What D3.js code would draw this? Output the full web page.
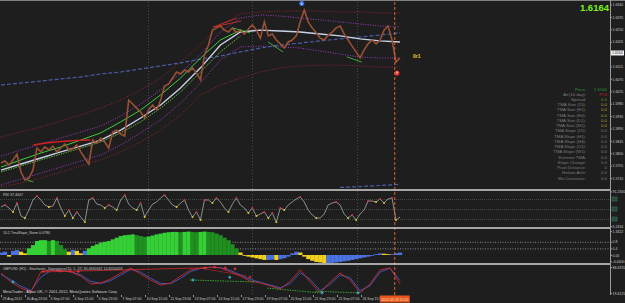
<!DOCTYPE html>
<html>
<head>
<meta charset="utf-8">
<script src="https://cdn.jsdelivr.net/npm/d3@7"></script>
<style>
body { margin: 0; background: #1e1e1e; }
svg { display: block; }
text { font-family: "Liberation Sans", Arial, sans-serif; }
</style>
</head>
<body>
<script>
// ---- data (GBPUSD H1) ----
var timeLabels = ["29 Aug 2012", "30 Aug 23:00", "3 Sep 07:00", "4 Sep 15:00", "5 Sep 23:00", "7 Sep 07:00",
    "10 Sep 15:00", "11 Sep 23:00", "13 Sep 07:00", "14 Sep 15:00", "17 Sep 23:00", "19 Sep 07:00",
    "20 Sep 15:00", "21 Sep 23:00", "25 Sep 07:00", "26 Sep 15:00"];
var labelEvery = 32;          // bars between two time labels
var cursorBar = 525;
var cursorLabel = "2012.09.28 15:00";
var lastPrice = 1.6164;

// closes, one every 1/100 of the visible bars
var closes = [1.5765, 1.5772, 1.5757, 1.5776, 1.5797, 1.5732, 1.5703, 1.5710, 1.5739, 1.5819,
    1.5805, 1.5823, 1.5812, 1.5826, 1.5805, 1.5819, 1.5834, 1.5812, 1.5816, 1.5830,
    1.5805, 1.5783, 1.5761, 1.5848, 1.5837, 1.5855, 1.5841, 1.5819, 1.5877, 1.5884,
    1.5870, 1.5863, 1.5993, 1.5979, 1.5964, 1.5950, 1.5928, 1.5957, 1.5975, 1.5957,
    1.5993, 1.6044, 1.6051, 1.6073, 1.6095, 1.6088, 1.6102, 1.6095, 1.6110, 1.6091,
    1.6066, 1.6157, 1.6193, 1.6247, 1.6255, 1.6262, 1.6247, 1.6240, 1.6255, 1.6237,
    1.6247, 1.6233, 1.6251, 1.6266, 1.6247, 1.6218, 1.6277, 1.6226, 1.6233, 1.6211,
    1.6197, 1.6182, 1.6204, 1.6211, 1.6226, 1.6277, 1.6320, 1.6277, 1.6255, 1.6237,
    1.6218, 1.6211, 1.6229, 1.6240, 1.6255, 1.6262, 1.6233, 1.6211, 1.6189, 1.6168,
    1.6146, 1.6175, 1.6197, 1.6211, 1.6197, 1.6211, 1.6247, 1.6262, 1.6211, 1.6131, 1.6146];

// smooth lines, one every 1/20 of the visible bars
var tmaMid = [1.5739, 1.5761, 1.5783, 1.5805, 1.5826, 1.5848, 1.5884, 1.5928, 1.5975, 1.6037, 1.6110,
    1.6193, 1.6240, 1.6247, 1.6244, 1.6240, 1.6233, 1.6226, 1.6215, 1.6208, 1.6204];
var tmaUpper = [1.5790, 1.5812, 1.5834, 1.5855, 1.5877, 1.5899, 1.5935, 1.5979, 1.6030, 1.6091, 1.6160,
    1.6240, 1.6291, 1.6302, 1.6298, 1.6291, 1.6284, 1.6277, 1.6269, 1.6262, 1.6258];
var tmaLower = [1.5685, 1.5707, 1.5728, 1.5750, 1.5772, 1.5794, 1.5830, 1.5874, 1.5921, 1.5982, 1.6055,
    1.6139, 1.6186, 1.6189, 1.6186, 1.6182, 1.6171, 1.6160, 1.6149, 1.6146, 1.6146];
var tmaUpper2 = [1.5859, 1.5877, 1.5895, 1.5917, 1.5939, 1.5964, 1.5993, 1.6030, 1.6073, 1.6131, 1.6193,
    1.6266, 1.6306, 1.6313, 1.6316, 1.6316, 1.6316, 1.6313, 1.6313, 1.6309, 1.6309];
var tmaLower2 = [1.5678, 1.5692, 1.5710, 1.5732, 1.5754, 1.5776, 1.5805, 1.5841, 1.5884, 1.5939, 1.6012,
    1.6048, 1.6073, 1.6095, 1.6110, 1.6117, 1.6120, 1.6120, 1.6117, 1.6113, 1.6113];
var ma200 = [1.6048, 1.6055, 1.6062, 1.6070, 1.6077, 1.6088, 1.6095, 1.6106, 1.6117, 1.6128, 1.6142,
    1.6153, 1.6168, 1.6182, 1.6193, 1.6200, 1.6208, 1.6215, 1.6222, 1.6229, 1.6237];
var ma800Tail = [1.5676, 1.5679, 1.5683, 1.5687];   // samples 17..20
var emaFast = [1.5750, 1.5776, 1.5801, 1.5823, 1.5848, 1.5874, 1.5914, 1.5957, 1.6012, 1.6073, 1.6146, 1.6211, 1.6247];
var emaSlow = [1.5732, 1.5754, 1.5776, 1.5797, 1.5819, 1.5841, 1.5874, 1.5914, 1.5964, 1.6022, 1.6095, 1.6168, 1.6226];
var maDown = [[43, 1.5830], [60, 1.5837], [80, 1.5843], [100, 1.5846], [119, 1.5848]];

// fractal lines [bar1, price1, bar2, price2]
var fractalHigh = [[283, 1.6258, 315, 1.6291], [283, 1.6258, 320, 1.6280]];
var fractalLow = [[35, 1.5703, 43, 1.5696], [309, 1.6255, 332, 1.6237], [356, 1.6204, 376, 1.6168], [461, 1.6150, 481, 1.6131]];
var arrowTop = [401, 1.6344];
var arrowBottom = [528, 1.6091];

var priceTicks = [1.6340, 1.6295, 1.6250, 1.6205, 1.6115, 1.6070, 1.6025, 1.5980, 1.5935,
    1.5890, 1.5845, 1.5800, 1.5755, 1.5710];

var infoLabels = ["Price:", "Atr(14-day):", "Spread:", "TMA Size (15):", "TMA Size (H1):", "TMA Size (H4):",
    "TMA Size (D1):", "TMA Size (W1):", "TMA Slope (15):", "TMA Slope (H1):", "TMA Slope (H4):",
    "TMA Slope (D1):", "TMA Slope (W1):", "Extreme TMA:", "Slope Change:", "Pivot Distance:",
    "Heiken Ashi:", "Ma Crossover:"];
var infoValues = ["1.6164", "77.6", "0.0", "0.0", "0.0", "0.0", "0.0", "0.0", "0.0", "0.0", "0.0",
    "0.0", "0.0", "0.0", "0.0", "0", "0.0", "0.0"];

// RSI, one every 1/100 of the bars
var rsi = [54, 58, 52, 44, 62, 36, 32, 48, 68, 76, 68, 58, 54, 56, 72, 52, 36, 48, 32, 44,
    34, 24, 68, 72, 60, 58, 52, 58, 54, 48, 68, 78, 60, 52, 48, 62, 34, 48, 60, 64,
    72, 78, 68, 58, 54, 62, 68, 48, 34, 44, 28, 68, 68, 62, 72, 64, 52, 44, 60, 72,
    58, 52, 42, 52, 36, 40, 44, 32, 42, 24, 52, 48, 58, 64, 70, 74, 64, 48, 38, 32,
    32, 40, 58, 62, 64, 58, 40, 32, 38, 28, 40, 48, 66, 66, 64, 70, 62, 70, 72, 28, 34];
var rsiLevels = [70, 50, 30];
var rsiText = "RSI 37.4007";

// TmaSlope_Norm, one every 1/100 of the bars
var tmaSlope = [0.15, 0.2, -0.1, 0.25, 0.3, 0.2, 0.1, 0.4, 0.6, 0.85, 0.9, 0.9, 0.85, 0.9, 0.85, 0.6,
    0.35, 0.2, 0.3, 0.25, 0.1, 0.25, 0.4, 0.55, 0.65, 0.75, 0.8, 0.85, 0.95, 1.05, 1.15, 1.2,
    1.22, 1.25, 1.2, 1.15, 1.1, 1.12, 1.18, 1.25, 1.3, 1.35, 1.38, 1.4, 1.4, 1.38, 1.4, 1.42,
    1.4, 1.38, 1.4, 1.42, 1.4, 1.38, 1.3, 1.2, 1.05, 0.9, 0.65, 0.4, 0.15, -0.05, -0.1, -0.15,
    -0.2, -0.25, -0.3, -0.3, -0.28, -0.3, -0.25, -0.2, -0.1, 0.1, 0.2, 0.15, -0.1, -0.25, -0.35,
    -0.42, -0.45, -0.5, -0.5, -0.48, -0.45, -0.42, -0.38, -0.35, -0.3, -0.25, -0.2, -0.15, -0.1,
    -0.05, 0.05, 0.1, 0.08, 0.05, 0.05, 0.1, 0.15];
var slopeLevels = [0.8, 0.4];
var slopeText = "10.2 TmaSlope_Norm 0.0780";

// Stochastic, one every 1/40 of the bars
var stochMain = [75, 43, 21, 7, 79, 86, 82, 79, 64, 36, 39, 54, 75, 93, 71, 50, 32, 39, 64, 86, 93,
    96, 93, 79, 64, 46, 39, 29, 18, 46, 86, 43, 4, 43, 75, 50, 4, 36, 86, 93, 36];
var stochSignal = [70, 50, 28, 12, 60, 84, 84, 80, 68, 45, 38, 48, 68, 88, 78, 56, 38, 37, 56, 80, 91,
    95, 94, 84, 68, 52, 42, 32, 22, 38, 76, 52, 12, 35, 68, 58, 12, 30, 78, 92, 48];
var divBear = [[57, 79, 263, 93]];
var divBearDash = [[265, 93, 328, 64]];
var divBull = [[252, 50, 339, 43], [355, 21, 425, 4], [419, 10, 476, 4]];
var stochBuy = [[16, 43], [256, 50], [305, 60], [428, 4], [476, 4]];
var stochSell = [[56, 80], [79, 82], [92, 82], [103, 80], [272, 93], [285, 96], [299, 93], [312, 90], [332, 60]];
var stochText = "GBPUSD (H1) - Stochastic_Divergence(15, 5, 22) 30.4690342 14.8200059";

// ---- layout ----
var width = 625, height = 303;
var BARS = 532;
var axisX = 610;
var small = 3.6;

var svg = d3.select("body").append("svg")
    .attr("width", width)
    .attr("height", height);

svg.append("rect")
    .attr("width", width)
    .attr("height", height)
    .attr("fill", "#1e1e1e");

var x = d3.scaleLinear().domain([0, BARS]).range([1, 400]);
var yPrice = d3.scaleLinear().domain([1.5674, 1.6349]).range([188, 2]);
var yRsi = d3.scaleLinear().domain([14, 86]).range([227, 191]);
var ySlope = d3.scaleLinear().domain([-0.485, 1.576]).range([263, 229]);
var yStoch = d3.scaleLinear().domain([0, 100]).range([294, 266]);

var panels = [["main", 2, 189], ["rsi", 191, 227], ["slope", 229, 263], ["stoch", 265, 295]];
var defs = svg.append("defs");
panels.forEach(function (p) {
    defs.append("clipPath").attr("id", "clip-" + p[0])
        .append("rect").attr("x", 0).attr("y", p[1]).attr("width", axisX).attr("height", p[2] - p[1]);
});
function panel(name) {
    return svg.append("g").attr("clip-path", "url(#clip-" + name + ")");
}

// sample i of a series that has n samples over the whole width
function bar(i, n) { return i * BARS / (n - 1); }

function series(g, data, n, y, color, w, dash, offset) {
    offset = offset || 0;
    g.append("path").datum(data)
        .attr("d", d3.line()
            .x(function (d, i) { return x(bar(i + offset, n)); })
            .y(function (d) { return y(d); }))
        .attr("fill", "none")
        .attr("stroke", color)
        .attr("stroke-width", w)
        .attr("stroke-dasharray", dash || null);
}

function segments(g, data, y, color, w, dash) {
    g.selectAll(null).data(data).enter().append("line")
        .attr("x1", function (d) { return x(d[0]); })
        .attr("y1", function (d) { return y(d[1]); })
        .attr("x2", function (d) { return x(d[2]); })
        .attr("y2", function (d) { return y(d[3]); })
        .attr("stroke", color)
        .attr("stroke-width", w)
        .attr("stroke-dasharray", dash || null);
}

// vertical grid (dotted)
var grid = svg.append("g");
[148, 252, 357].forEach(function (gx) {
    grid.append("line").attr("x1", gx + 0.5).attr("x2", gx + 0.5).attr("y1", 2).attr("y2", 295)
        .attr("stroke", "#4a4a4a").attr("stroke-dasharray", "1,2");
});

// ---- main chart ----
var main = panel("main");
series(main, tmaUpper2, 21, yPrice, "#8e2435", 1, "1,1.5");
series(main, tmaLower2, 21, yPrice, "#8e2435", 1, "1,1.5");
series(main, tmaUpper, 21, yPrice, "#a13cc0", 1, "1,1.5");
series(main, tmaLower, 21, yPrice, "#a13cc0", 1, "1,1.5");
series(main, ma200, 21, yPrice, "#4a5ea8", 1.2, "4,2");
series(main, ma800Tail, 21, yPrice, "#4a5ea8", 1.2, "4,2", 17);
series(main, emaSlow, 21, yPrice, "#58b830", 1, "1.5,1");
series(main, emaFast, 21, yPrice, "#3ccf3c", 1);
series(main, tmaMid, 21, yPrice, "#c9d2e6", 1.4);

main.append("path").datum(maDown)
    .attr("d", d3.line().x(function (d) { return x(d[0]); }).y(function (d) { return yPrice(d[1]); }))
    .attr("fill", "none").attr("stroke", "#d02020").attr("stroke-width", 1.5);

series(main, closes, 101, yPrice, "#9a5034", 1.6);

segments(main, fractalHigh, yPrice, "#e03030", 0.8);
segments(main, fractalLow, yPrice, "#40d040", 0.8);

function arrowMark(g, bx, py, color, up) {
    var cx = x(bx), cy = yPrice(py);
    g.append("circle").attr("cx", cx).attr("cy", cy).attr("r", 2.6).attr("fill", color);
    var s = up ? -1 : 1;
    g.append("path")
        .attr("d", "M" + (cx - 1.3) + "," + cy + " L" + cx + "," + (cy + 1.6 * s) + " L" + (cx + 1.3) + "," + cy +
            " M" + cx + "," + (cy - 1.6 * s) + " L" + cx + "," + (cy + 1.4 * s))
        .attr("stroke", "#ffffff").attr("stroke-width", 0.6).attr("fill", "none");
}
arrowMark(svg, arrowTop[0], arrowTop[1], "#2a5fe0", false);
arrowMark(svg, arrowBottom[0], arrowBottom[1], "#e02020", true);

svg.append("text").attr("x", 413).attr("y", 57.5)
    .attr("font-size", 5).attr("font-weight", "bold").attr("fill", "#e8d21a").text("0r1");

svg.append("text").attr("x", 609).attr("y", 10.5).attr("text-anchor", "end")
    .attr("font-size", 9.5).attr("font-weight", "bold").attr("fill", "#7cf020").text(lastPrice.toFixed(4));

// info block
var info = svg.append("g").attr("font-size", 4.3);
var rowY = d3.scaleLinear().domain([0, infoLabels.length - 1]).range([90.5, 179.5]);
info.selectAll(".lab").data(infoLabels).enter().append("text")
    .attr("class", "lab")
    .attr("x", 586).attr("y", function (d, i) { return rowY(i); })
    .attr("text-anchor", "end")
    .attr("fill", function (d, i) { return i === 0 ? "#2f9a2f" : "#7c7c7c"; })
    .text(function (d) { return d; });
info.selectAll(".val").data(infoValues).enter().append("text")
    .attr("class", "val")
    .attr("x", 607).attr("y", function (d, i) { return rowY(i); })
    .attr("text-anchor", "end")
    .attr("fill", function (d, i) {
        if (i === 0) return "#2f9a2f";
        if (i === 1) return "#c02828";
        if (i === 2) return "#5e9a2a";
        if (i < 8) return "#a8a820";
        return "#7c7c7c";
    })
    .text(function (d) { return d; });

// ---- RSI ----
var rsiG = panel("rsi");
rsiLevels.forEach(function (lv) {
    rsiG.append("line").attr("x1", 0).attr("x2", axisX).attr("y1", yRsi(lv) + 0.5).attr("y2", yRsi(lv) + 0.5)
        .attr("stroke", "#3c4a44").attr("stroke-dasharray", "1,1");
});
series(rsiG, rsi, 101, yRsi, "#9a9a9a", 0.9);
rsi.forEach(function (v, i) {
    if (i === 0 || i === rsi.length - 1) return;
    var c = null;
    if (v < rsi[i - 1] && v <= rsi[i + 1]) c = "#e8c820";
    else if (v > rsi[i - 1] && v >= rsi[i + 1]) c = "#d83030";
    if (c) rsiG.append("circle").attr("cx", x(bar(i, 101))).attr("cy", yRsi(v)).attr("r", 1).attr("fill", c);
});
svg.append("text").attr("x", 3).attr("y", 195.5).attr("font-size", small).attr("fill", "#c8c8c8").text(rsiText);

// ---- TmaSlope histogram ----
var slopeG = panel("slope");
slopeLevels.forEach(function (lv) {
    slopeG.append("line").attr("x1", 0).attr("x2", axisX).attr("y1", ySlope(lv) + 0.5).attr("y2", ySlope(lv) + 0.5)
        .attr("stroke", "#8a8a8a").attr("stroke-dasharray", "1,1.5");
});
var bw = x(bar(1, 101)) - x(0);
slopeG.selectAll(".hb").data(tmaSlope).enter().append("rect")
    .attr("class", "hb")
    .attr("x", function (d, i) { return x(bar(i, 101)) - bw / 2; })
    .attr("width", bw + 0.2)
    .attr("y", function (d) { return Math.min(ySlope(d), ySlope(0)); })
    .attr("height", function (d) { return Math.abs(ySlope(d) - ySlope(0)); })
    .attr("fill", function (d, i) {
        var prev = i > 0 ? tmaSlope[i - 1] : d;
        if (d >= 0.35) return d >= prev ? "#35d035" : "#1f8f1f";
        return d >= prev ? "#4a72e0" : "#f2d21e";
    });
svg.append("text").attr("x", 3).attr("y", 233.5).attr("font-size", small).attr("fill", "#c8c8c8").text(slopeText);

// ---- Stochastic ----
var stG = panel("stoch");
series(stG, stochSignal, 41, yStoch, "#3f5fcc", 0.9);
series(stG, stochMain, 41, yStoch, "#d02828", 0.9);
segments(stG, divBear, yStoch, "#d82828", 0.8);
segments(stG, divBearDash, yStoch, "#d82828", 0.8, "2,1");
segments(stG, divBull, yStoch, "#38c038", 0.8, "1.5,1");
function crossPath(d) {
    var cx = x(d[0]), cy = yStoch(d[1]);
    return "M" + (cx - 1.5) + "," + cy + "h3M" + cx + "," + (cy - 1.5) + "v3";
}
stG.selectAll(".buy").data(stochBuy).enter().append("path")
    .attr("d", crossPath).attr("stroke", "#30c8e8").attr("stroke-width", 1);
stG.selectAll(".sell").data(stochSell).enter().append("path")
    .attr("d", crossPath).attr("stroke", "#f03030").attr("stroke-width", 1);
svg.append("text").attr("x", 3).attr("y", 269.5).attr("font-size", small).attr("fill", "#c8c8c8").text(stochText);
svg.append("text").attr("x", 3).attr("y", 293).attr("font-size", 3.9).attr("fill", "#d8d8d8")
    .text("MetaTrader - Alpari UK, \u00a9 2001-2012, MetaQuotes Software Corp.");

// cursor line
svg.append("line").attr("x1", x(cursorBar)).attr("x2", x(cursorBar)).attr("y1", 2).attr("y2", 295)
    .attr("stroke", "#d8642c").attr("stroke-width", 1).attr("stroke-dasharray", "3,2");

// separators
svg.append("line").attr("x1", 0).attr("x2", width).attr("y1", 0.5).attr("y2", 0.5).attr("stroke", "#808080");
[190, 228, 264].forEach(function (sy) {
    svg.append("line").attr("x1", 0).attr("x2", axisX + 1).attr("y1", sy).attr("y2", sy)
        .attr("stroke", "#d4d4d4").attr("stroke-width", 1.5);
});
svg.append("line").attr("x1", axisX + 0.5).attr("x2", axisX + 0.5).attr("y1", 0).attr("y2", 295)
    .attr("stroke", "#9a9a9a");

// ---- right axes ----
function rightAxis(scale, values, fmt) {
    var g = svg.append("g").attr("transform", "translate(" + (axisX + 0.5) + ",0)")
        .call(d3.axisRight(scale).tickValues(values).tickSize(1.5).tickFormat(fmt));
    g.select(".domain").remove();
    g.selectAll("line").attr("stroke", "#9a9a9a");
    g.selectAll("text").attr("font-size", 3.5).attr("fill", "#c8c8c8").attr("x", 2)
        .attr("font-family", "Liberation Sans, Arial, sans-serif");
    return g;
}
rightAxis(yPrice, priceTicks, d3.format(".4f"));
svg.append("rect").attr("x", axisX + 1).attr("y", yPrice(lastPrice) - 2.5).attr("width", 13).attr("height", 5)
    .attr("fill", "#f0f0f0");
svg.append("text").attr("x", axisX + 2).attr("y", yPrice(lastPrice) + 1.3).attr("font-size", 3.5)
    .attr("fill", "#1e1e1e").text(lastPrice.toFixed(4));

rightAxis(yRsi, [85.2], function () { return "91.2300"; });
rightAxis(yRsi, [15.8], function () { return "6.2434"; });
rsiLevels.forEach(function (lv) {
    svg.append("rect").attr("x", axisX + 2).attr("y", yRsi(lv) - 2).attr("width", 5).attr("height", 4)
        .attr("fill", "#264a38").attr("stroke", "#3e7a5a").attr("stroke-width", 0.5);
});
rightAxis(ySlope, [1.45, 0.8, 0.4, 0, -0.38], function (d) {
    return d === 1.45 ? "1.3322" : d === -0.38 ? "-0.4400" : d === 0 ? "0.00" : String(d);
});
rightAxis(yStoch, [96, 4], function (d) { return d > 50 ? "88.4920" : "19.4125"; });

// ---- time axis ----
var tickBars = timeLabels.map(function (d, i) { return i * labelEvery; });
var tx = svg.append("g").attr("transform", "translate(0,295)")
    .call(d3.axisBottom(x).tickValues(tickBars).tickSize(2)
        .tickFormat(function (d, i) { return timeLabels[i]; }));
tx.select(".domain").remove();
tx.selectAll("line").attr("stroke", "#9a9a9a");
tx.selectAll("text").attr("font-size", 3.5).attr("fill", "#c8c8c8").attr("text-anchor", "start")
    .attr("x", 1).attr("y", 2.5).attr("font-family", "Liberation Sans, Arial, sans-serif");

svg.append("rect").attr("x", x(cursorBar) - 15).attr("y", 295.5).attr("width", 30).attr("height", 7)
    .attr("fill", "#e8561e");
svg.append("text").attr("x", x(cursorBar)).attr("y", 300.8).attr("text-anchor", "middle")
    .attr("font-size", 3.5).attr("fill", "#ffe0c0").text(cursorLabel);
</script>
</body>
</html>
